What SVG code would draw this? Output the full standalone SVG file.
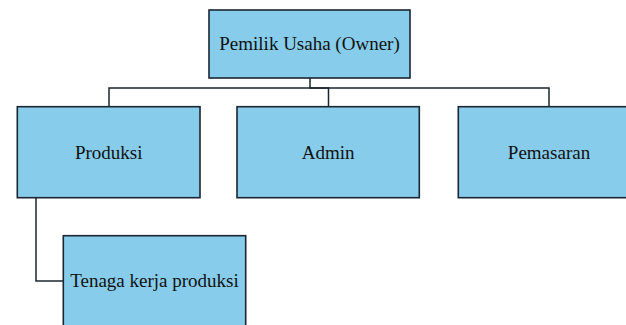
<svg xmlns="http://www.w3.org/2000/svg" width="626" height="325" viewBox="0 0 626 325">
<style>
.box{fill:#87CDEB;stroke:#1b2631;stroke-width:1.6}
.lbl{font-family:"Liberation Serif","Times New Roman",serif;font-size:19px;fill:#111;text-anchor:middle}
.conn{fill:none;stroke:#1b2631;stroke-width:1.5}
</style>
<rect width="626" height="325" fill="#fff"/>
<g id="connectors">
<path class="conn" d="M310 78 V88 H328.5 V106.7"/>
<path class="conn" d="M109 106.7 V88 H549 V106.7"/>
<path class="conn" d="M36 197.7 V281 H63.3"/>
</g>
<g id="owner">
<rect class="box" x="209" y="10" width="201" height="68"/>
<text class="lbl" x="309.5" y="50">Pemilik Usaha (Owner)</text>
</g>
<g id="produksi">
<rect class="box" x="17.3" y="106.7" width="182.7" height="91"/>
<text class="lbl" x="108.7" y="158.5">Produksi</text>
</g>
<g id="admin">
<rect class="box" x="237" y="106.7" width="182.3" height="91"/>
<text class="lbl" x="328.2" y="158.5">Admin</text>
</g>
<g id="pemasaran">
<rect class="box" x="458.3" y="106.7" width="182" height="91"/>
<text class="lbl" x="549" y="158.5">Pemasaran</text>
</g>
<g id="tenaga">
<rect class="box" x="63.3" y="235.7" width="182.4" height="91"/>
<text class="lbl" x="154.5" y="287">Tenaga kerja produksi</text>
</g>
</svg>
